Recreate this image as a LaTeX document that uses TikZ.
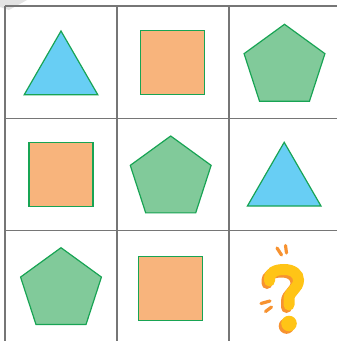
\documentclass[tikz,border=0pt]{standalone}
\usetikzlibrary{shapes.geometric}
\definecolor{skyblue}{RGB}{104,206,244}
\definecolor{peach}{RGB}{248,180,124}
\definecolor{mint}{RGB}{129,202,154}
\definecolor{leafgreen}{RGB}{24,164,84}
\definecolor{gridgrey}{RGB}{118,118,118}
\definecolor{qyellow}{RGB}{255,196,22}
\definecolor{qorange}{RGB}{247,146,48}
\begin{document}
\begin{tikzpicture}[x=1pt,y=-1pt,
  shp/.style={draw=leafgreen,line width=1.2pt,inner sep=0pt},
  tri/.style={shp,regular polygon,regular polygon sides=3,minimum size=85pt,fill=skyblue},
  sqr/.style={shp,rectangle,minimum size=64pt,fill=peach},
  pent/.style={shp,regular polygon,regular polygon sides=5,minimum size=85pt,fill=mint},
  gridline/.style={draw=gridgrey,line width=1.6pt},
  qmark/.style={line width=11pt,line cap=round},
  spark/.style={draw=qorange,line width=3.2pt,line cap=round}
]
\useasboundingbox[fill=white] (0,0) rectangle (337,341);
% faint corner mark
\fill[gray!22] (0,0) -- (27,0) -- (9,10) -- (0,7) -- cycle;
% grid
\foreach \x in {5,117,229} \draw[gridline] (\x,6) -- (\x,341);
\foreach \y in {6,118.5,230.5} \draw[gridline] (5,\y) -- (337,\y);
% first row
\node[tri] (tri1) at (61,73.5) {};
\node[sqr] (sqr1) at (172.7,62.8) {};
\node[pent] (pent1) at (284.5,66.8) {};
% second row
\node[sqr] (sqr2) at (61,174.5) {};
\node[pent] (pent2) at (170.7,178.5) {};
\node[tri] (tri2) at (284.2,184.8) {};
% third row
\node[pent] (pent3) at (61,290.2) {};
\node[sqr] (sqr3) at (170.7,288.2) {};
% question mark
\begin{scope}[shift={(-2.5,2.5)}]
  \draw[qmark,qorange] (269.5,281) .. controls (268.5,272) and (276,269.5) .. (284,269.5)
    .. controls (293,269.5) and (298.5,274) .. (298.5,280)
    .. controls (298.5,289) and (289,291) .. (289,299) -- (289,305);
  \fill[qorange] (289,323.5) circle (7.8);
\end{scope}
\draw[qmark,qyellow] (269.5,281) .. controls (268.5,272) and (276,269.5) .. (284,269.5)
  .. controls (293,269.5) and (298.5,274) .. (298.5,280)
  .. controls (298.5,289) and (289,291) .. (289,299) -- (289,305);
\fill[qyellow] (289,323.5) circle (7.8);
\draw[spark] (277,248) -- (281.5,255);
\draw[spark] (285.5,245.5) -- (286.5,253);
\draw[spark] (261,303.5) -- (270,301);
\draw[spark] (265.5,311.5) -- (271.5,307);
\end{tikzpicture}
\end{document}
